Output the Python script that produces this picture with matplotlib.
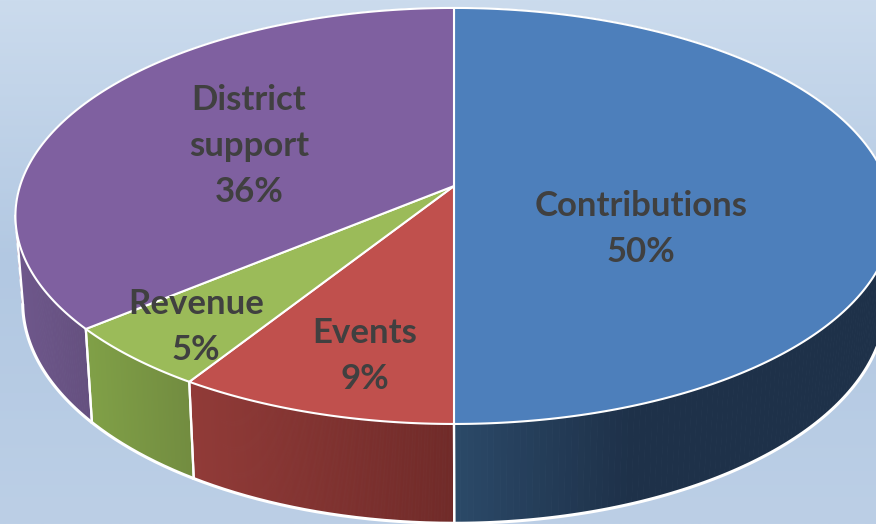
"""3D-look pie of funding sources, drawn with a projective map of the unit circle."""
import numpy as np
import matplotlib
matplotlib.use("Agg")
import matplotlib.pyplot as plt
from matplotlib.colors import LinearSegmentedColormap, to_rgb
from matplotlib.patches import Polygon

# clockwise from 12 o'clock
categories = ["Contributions", "Events", "Revenue", "District\nsupport"]
values = [50, 9, 5, 36]
top_colors = ["#4d7fbb", "#c0504d", "#9bbb59", "#7f60a0"]
side_left = ["#2b4968", "#913b38", "#80a047", "#6e578b"]
side_right = ["#1e3149", "#702a28", "#728c40", "#65507f"]
label_pos = [(641, 229), (365, 356), (196, 327), (249, 146)]

# pixel geometry of the projected disc
CX, CY = 454, 186
RX, RY = 434, 203.7
PERSP = 0.144
DEPTH = 85
LEAN_X, LEAN = 470, 0.016   # wall lines converge slightly going down
T_RIGHT, T_LEFT = np.arccos(-PERSP), 2 * np.pi - np.arccos(-PERSP)   # silhouette angles


def project(t, drop=0.0):
    """t is the clockwise angle from the top, drop pushes the point down the pie wall."""
    u, v = np.sin(t), np.cos(t)
    w = 1 + PERSP * v
    x = CX + RX * u / w
    if drop:
        x = x + (LEAN_X - x) * LEAN
    return x, CY + (drop - RY * v) / w


fig = plt.figure(figsize=(8.76, 5.24), dpi=100)
ax = fig.add_axes([0, 0, 1, 1])
ax.set_xlim(0, 876)
ax.set_ylim(524, 0)
ax.axis("off")

bg = LinearSegmentedColormap.from_list("bg", ["#cbdbed", "#b2c8e2", "#bccfe6"])
ax.imshow(np.linspace(0, 1, 256).reshape(-1, 1), cmap=bg, extent=(0, 876, 524, 0),
          aspect="auto", zorder=0)

edges = 2 * np.pi * np.concatenate([[0], np.cumsum(values)]) / sum(values)

# walls first, the whole way round: the top face hides the back part
for i in range(len(values)):
    a, b = edges[i], edges[i + 1]
    ts = np.linspace(a, b, 240)
    c0, c1 = np.array(to_rgb(side_left[i])), np.array(to_rgb(side_right[i]))
    xs0, ys0 = project(ts)
    xs1, ys1 = project(ts, DEPTH)
    front = (ts >= np.pi / 2) & (ts <= 3 * np.pi / 2)
    lo, hi = xs0[front].min(), xs0[front].max()
    for k in range(len(ts) - 1):
        f = np.clip((0.5 * (xs0[k] + xs0[k + 1]) - lo) / (hi - lo), 0, 1)
        if i == 0:
            f = min(1, f * 2.5)   # blue wall settles to its dark tone early
        col = c0 + (c1 - c0) * f
        ax.add_patch(Polygon([(xs0[k], ys0[k]), (xs0[k + 1], ys0[k + 1]),
                              (xs1[k + 1], ys1[k + 1]), (xs1[k], ys1[k])],
                             facecolor=col, edgecolor=col, lw=0.6, zorder=2))
    # white rim along the bottom, only on the part the viewer sees
    seen = (ts >= T_RIGHT) & (ts <= T_LEFT)
    if seen.any():
        ax.plot(xs1[seen], ys1[seen], color="white", lw=2.2, zorder=3, solid_capstyle="round")
    for t in (a, b):
        if np.radians(90) < t < np.radians(270):
            x0, y0 = project(t)
            x1, y1 = project(t, DEPTH)
            ax.plot([x0, x1], [y0, y1], color="white", lw=1.6, zorder=3)

for t in (T_RIGHT, T_LEFT):
    x0, y0 = project(t)
    x1, y1 = project(t, DEPTH)
    ax.plot([x0, x1], [y0, y1], color="white", lw=1.8, zorder=3)

# top face
for i in range(len(values)):
    ts = np.linspace(edges[i], edges[i + 1], 300)
    xs, ys = project(ts)
    pts = np.column_stack([np.r_[CX, xs], np.r_[CY, ys]])
    ax.add_patch(Polygon(pts, closed=True, facecolor=top_colors[i], edgecolor="white",
                         lw=1.5, joinstyle="round", zorder=4))

for name, val, (x, y) in zip(categories, values, label_pos):
    ax.text(x, y, f"{name}\n{val}%", ha="center", va="center", family="Lato",
            weight="bold", fontsize=25, color="#404040", linespacing=1.53, zorder=5)

fig.savefig("out.png", dpi=100)
